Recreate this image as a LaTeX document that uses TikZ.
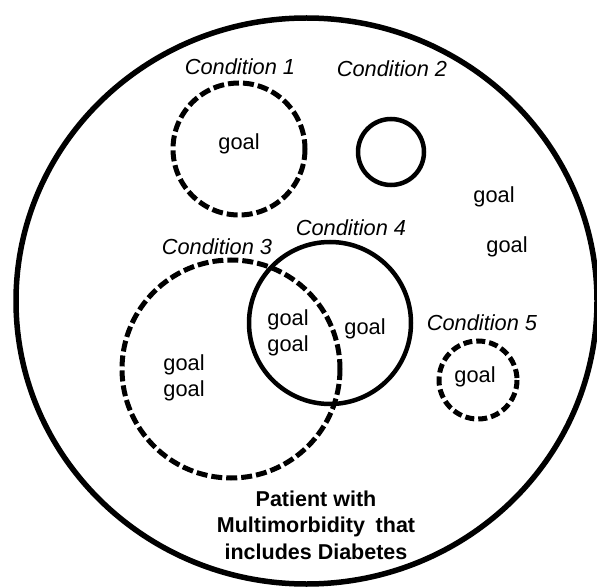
\documentclass[tikz,border=0pt]{standalone}
\usepackage{fontspec}
\setmainfont{Liberation Sans}
\begin{document}
\begin{tikzpicture}[x=1pt,y=-1pt,
  condlabel/.style={font=\fontsize{21.8}{26}\selectfont\itshape,inner sep=0pt},
  goallabel/.style={font=\fontsize{21.8}{26}\selectfont,inner sep=0pt,align=center},
  dashring/.style={line width=5pt,dash pattern=on 11pt off 4pt},
  solidring/.style={line width=4.5pt}]
\useasboundingbox (0,0) rectangle (597,588);
\draw[line width=5.5pt] (306.5,301) ellipse [x radius=290.5,y radius=283];
\draw[dashring] (239,149) circle (66);
\draw[solidring] (391,152) circle (33);
\draw[dashring] (231,369) circle (109);
\draw[solidring] (330,323) circle (81);
\draw[dashring,dash pattern=on 9pt off 4pt] (478,380) circle (39);
\node[condlabel] (cond1) at (240,67) {Condition 1};
\node[condlabel] (cond2) at (392,69) {Condition 2};
\node[condlabel] (cond3) at (217,247) {Condition 3};
\node[condlabel] (cond4) at (351,228) {Condition 4};
\node[condlabel] (cond5) at (482,323) {Condition 5};
\node[goallabel] (goal1) at (239,144) {goal};
\node[goallabel] (goal2a) at (494,197) {goal};
\node[goallabel] (goal2b) at (507,247) {goal};
\node[goallabel] (goal3) at (184,378) {goal\\goal};
\node[goallabel] (goal34) at (288,333) {goal\\goal};
\node[goallabel] (goal4) at (365,329) {goal};
\node[goallabel] (goal5) at (475,377) {goal};
\node[goallabel,font=\fontsize{21.5}{26.5}\selectfont\bfseries] (patient) at (316,525)
  {Patient with\\Multimorbidity\hspace{0.5em}that\\includes Diabetes};
\end{tikzpicture}
\end{document}
